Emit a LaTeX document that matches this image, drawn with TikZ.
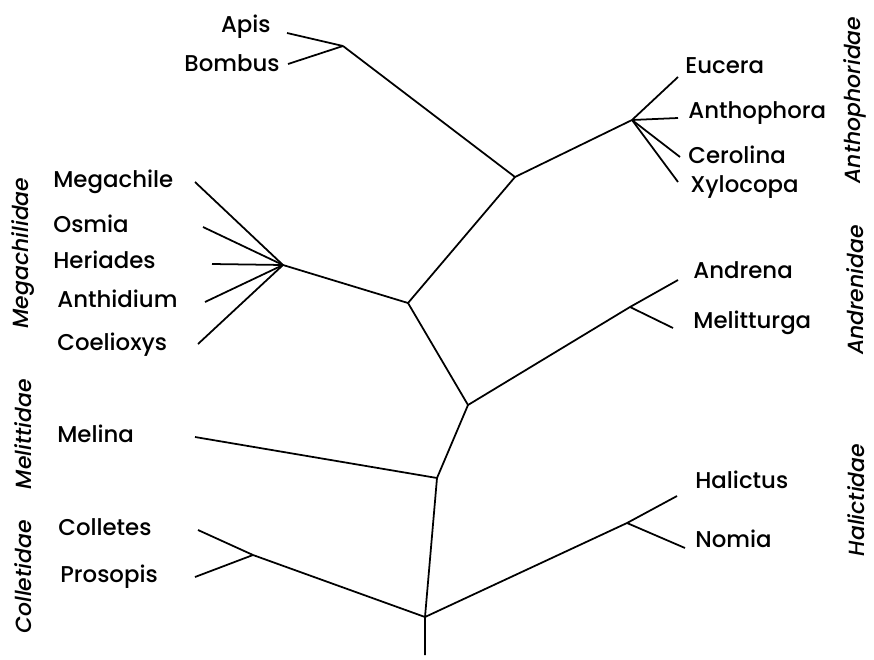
\documentclass[tikz,border=0pt]{standalone}
\usepackage{fontspec}
\setmainfont{Poppins Medium}
\usepackage{tikz}
\tikzset{
	branch/.style={line width=1pt,black},
	taxon/.style={inner sep=0pt,font=\fontsize{13}{15}\selectfont},
	family/.style={inner sep=0pt,rotate=90,font=\fontsize{12.5}{15}\selectfont\itshape}
}

\begin{document}
\begin{tikzpicture}[x=0.02cm,y=-0.02cm]
	\useasboundingbox (0,0) rectangle (874,659);
	% inner points of the tree
	\coordinate (base) at (425,655);
	\coordinate (root) at (425,617);
	\coordinate (colnode) at (253,555);
	\coordinate (halnode) at (627,523);
	\coordinate (melnode) at (437,478);
	\coordinate (upnode) at (468,405);
	\coordinate (andnode) at (630,307);
	\coordinate (megnode) at (408,303);
	\coordinate (megfan) at (283,265);
	\coordinate (topnode) at (515,177);
	\coordinate (apinode) at (343,46);
	\coordinate (antnode) at (632,120);
	% free ends of the twigs
	\coordinate (apis-e) at (287,33);
	\coordinate (bombus-e) at (288,64);
	\coordinate (eucera-e) at (678,77);
	\coordinate (anthophora-e) at (678,118);
	\coordinate (cerolina-e) at (680,157);
	\coordinate (xylocopa-e) at (678,182);
	\coordinate (megachile-e) at (195,182);
	\coordinate (osmia-e) at (203,227);
	\coordinate (heriades-e) at (212,264);
	\coordinate (anthidium-e) at (205,302);
	\coordinate (coelioxys-e) at (198,344);
	\coordinate (andrena-e) at (678,280);
	\coordinate (melitturga-e) at (673,328);
	\coordinate (melina-e) at (195,437);
	\coordinate (halictus-e) at (677,496);
	\coordinate (nomia-e) at (685,548);
	\coordinate (colletes-e) at (198,530);
	\coordinate (prosopis-e) at (195,577);

	\draw[branch] (base)--(root)--(melnode)--(upnode)--(megnode)--(topnode)--(apinode);	%trunk
	\draw[branch] (root)--(colnode)--(colletes-e);
	\draw[branch] (colnode)--(prosopis-e);
	\draw[branch] (root)--(halnode)--(halictus-e);
	\draw[branch] (halnode)--(nomia-e);
	\draw[branch] (melnode)--(melina-e);
	\draw[branch] (upnode)--(andnode)--(andrena-e);
	\draw[branch] (andnode)--(melitturga-e);
	\draw[branch] (megnode)--(megfan);
	\foreach \t in {megachile,osmia,heriades,anthidium,coelioxys}
		\draw[branch] (megfan)--(\t-e);
	\draw[branch] (topnode)--(antnode);
	\foreach \t in {eucera,anthophora,cerolina,xylocopa}
		\draw[branch] (antnode)--(\t-e);
	\draw[branch] (apinode)--(apis-e);
	\draw[branch] (apinode)--(bombus-e);

	% genera
	\node[taxon,anchor=base east] (apis) at (271,32) {Apis};
	\node[taxon,anchor=base east] (bombus) at (280,71) {Bombus};
	\node[taxon,anchor=base west] (eucera) at (685,73) {Eucera};
	\node[taxon,anchor=base west] (anthophora) at (688,118) {Anthophora};
	\node[taxon,anchor=base west] (cerolina) at (688,163) {Cerolina};
	\node[taxon,anchor=base west] (xylocopa) at (690,192) {Xylocopa};
	\node[taxon,anchor=base west] (andrena) at (693,278) {Andrena};
	\node[taxon,anchor=base west] (melitturga) at (693,328) {Melitturga};
	\node[taxon,anchor=base west] (halictus) at (695,488) {Halictus};
	\node[taxon,anchor=base west] (nomia) at (695,547) {Nomia};
	\node[taxon,anchor=base west] (megachile) at (53,187) {Megachile};
	\node[taxon,anchor=base west] (osmia) at (53,232) {Osmia};
	\node[taxon,anchor=base west] (heriades) at (53,268) {Heriades};
	\node[taxon,anchor=base west] (anthidium) at (57,307) {Anthidium};
	\node[taxon,anchor=base west] (coelioxys) at (57,350) {Coelioxys};
	\node[taxon,anchor=base west] (melina) at (57,442) {Melina};
	\node[taxon,anchor=base west] (colletes) at (58,535) {Colletes};
	\node[taxon,anchor=base west] (prosopis) at (60,582) {Prosopis};

	% families
	\node[family] (megachilidae) at (23,253) {Megachilidae};
	\node[family] (melittidae) at (23,434) {Melittidae};
	\node[family] (colletidae) at (23,577) {Colletidae};
	\node[family] (anthophoridae) at (855,100) {Anthophoridae};
	\node[family] (andrenidae) at (855,290) {Andrenidae};
	\node[family] (halictidae) at (856,500) {Halictidae};
\end{tikzpicture}
\end{document}
